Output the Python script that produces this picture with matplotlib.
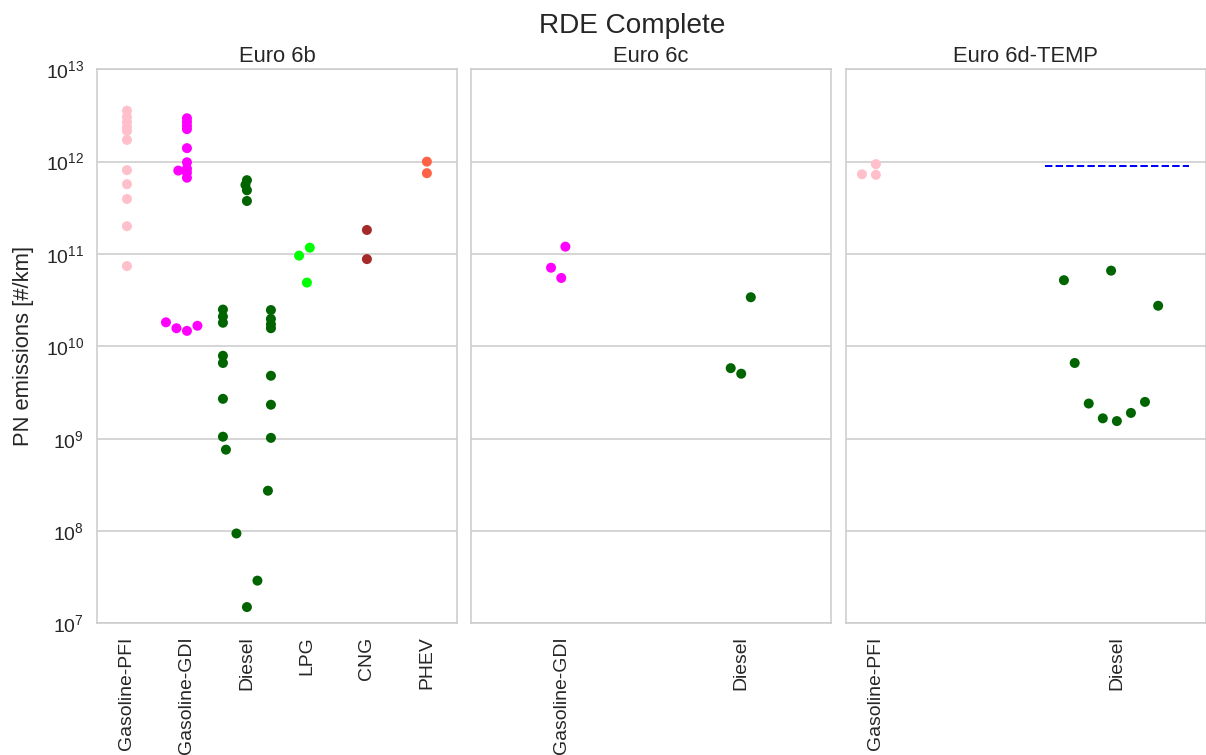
import warnings
import numpy as np
import pandas as pd
import matplotlib
matplotlib.use("Agg")
import matplotlib.pyplot as plt
import seaborn as sns

warnings.filterwarnings("ignore")

# PN emissions [#/km] per vehicle
norms = ["Euro 6b", "Euro 6c", "Euro 6d-TEMP"]

fuels_6b = ["Gasoline-PFI", "Gasoline-GDI", "Diesel", "LPG", "CNG", "PHEV"]
pfi_6b = [3.56e12, 3.04e12, 2.68e12, 2.37e12, 2.15e12, 1.72e12, 8.1e11, 5.7e11,
          3.94e11, 2.0e11, 7.4e10]
gdi_6b = [2.95e12, 2.7e12, 2.45e12, 2.25e12, 1.4e12, 9.85e11, 8.4e11, 8.0e11,
          7.6e11, 6.7e11, 1.82e10, 1.67e10, 1.57e10, 1.47e10]
diesel_6b = [6.3e11, 5.6e11, 4.9e11, 3.75e11, 2.5e10, 2.47e10, 2.1e10, 1.98e10,
             1.8e10, 1.73e10, 1.57e10, 7.9e9, 6.6e9, 4.8e9, 2.7e9, 2.33e9,
             1.05e9, 1.02e9, 7.6e8, 2.73e8, 9.4e7, 2.9e7, 1.5e7]
lpg_6b = [1.17e11, 9.6e10, 4.9e10]
cng_6b = [1.82e11, 8.8e10]
phev_6b = [1.0e12, 7.5e11]

fuels_6c = ["Gasoline-GDI", "Diesel"]
gdi_6c = [1.2e11, 7.1e10, 5.5e10]
diesel_6c = [3.4e10, 5.8e9, 5.05e9]

fuels_6d = ["Gasoline-PFI", "Diesel"]
pfi_6d = [9.4e11, 7.3e11, 7.2e11]
diesel_6d = [6.6e10, 5.2e10, 2.75e10, 6.6e9, 2.5e9, 2.4e9, 1.9e9, 1.66e9, 1.55e9]

# PN limit 6e11 x conformity factor 1.5
pn_limit_6d = 9e11

colors = {"Gasoline-PFI": "pink", "Gasoline-GDI": "magenta", "Diesel": "darkgreen",
          "LPG": "lime", "CNG": "brown", "PHEV": "tomato"}

groups = [
    ("Euro 6b", "Gasoline-PFI", pfi_6b), ("Euro 6b", "Gasoline-GDI", gdi_6b),
    ("Euro 6b", "Diesel", diesel_6b), ("Euro 6b", "LPG", lpg_6b),
    ("Euro 6b", "CNG", cng_6b), ("Euro 6b", "PHEV", phev_6b),
    ("Euro 6c", "Gasoline-GDI", gdi_6c), ("Euro 6c", "Diesel", diesel_6c),
    ("Euro 6d-TEMP", "Gasoline-PFI", pfi_6d), ("Euro 6d-TEMP", "Diesel", diesel_6d),
]
rows = []
for norm, fuel, vals in groups:
    for v in vals:
        rows.append((norm, fuel, v))
df = pd.DataFrame(rows, columns=["norm", "fuel", "pn"])
orders = {"Euro 6b": fuels_6b, "Euro 6c": fuels_6c, "Euro 6d-TEMP": fuels_6d}

sns.set_style("whitegrid")
plt.rcParams["font.family"] = ["Liberation Sans", "DejaVu Sans"]
plt.rcParams["mathtext.fontset"] = "custom"
plt.rcParams["mathtext.rm"] = "Liberation Sans"
plt.rcParams["mathtext.it"] = "Liberation Sans:italic"
plt.rcParams["mathtext.bf"] = "Liberation Sans:bold"

dpi = 144
fig, axes = plt.subplots(1, 3, sharey=True, figsize=(1206 / dpi, 755 / dpi), dpi=dpi)
fig.subplots_adjust(left=0.0804, right=0.9996, bottom=0.1744, top=0.9082, wspace=0.04)

for ax, norm in zip(axes, norms):
    sub = df[df["norm"] == norm]
    sns.swarmplot(data=sub, x="fuel", y="pn", order=orders[norm], hue="fuel",
                  palette=colors, size=5, legend=False, ax=ax)

# swarm laid out on the linear axis first, then switched to log (as in the original)
fig.canvas.draw()
for ax in axes:
    for coll in ax.collections:
        coll.__dict__.pop("draw", None)

diesel_idx = fuels_6d.index("Diesel")
axes[2].hlines(pn_limit_6d, diesel_idx - 0.3, diesel_idx + 0.3, colors="blue",
               linestyles="--", linewidth=1)

for ax, norm in zip(axes, norms):
    ax.set_yscale("log")
    ax.set_ylim(1e7, 1e13)
    ax.set_title(norm, fontsize=11, color=".15", pad=3.8)
    ax.set_xlabel("")
    ax.set_ylabel("")
    ax.tick_params(axis="x", labelrotation=90, labelsize=9.7, pad=3)
    ax.tick_params(axis="y", labelsize=9.7, pad=3)
    ax.yaxis.set_minor_locator(matplotlib.ticker.NullLocator())
    ax.xaxis.grid(False)
    for s in ax.spines.values():
        s.set_color(".8")

axes[0].set_ylabel("PN emissions [#/km]", fontsize=11, labelpad=6)
fig.suptitle("RDE Complete", fontsize=14, x=0.524, y=0.956, va="baseline", color=".15")

fig.savefig("out.png", dpi=dpi)
